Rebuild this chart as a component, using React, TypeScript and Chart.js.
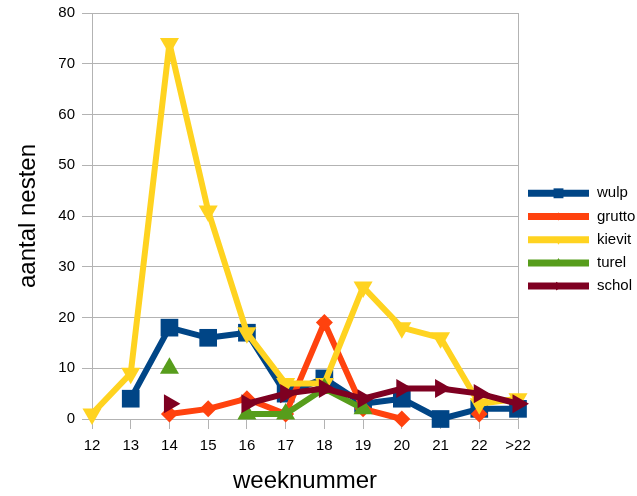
import React, { useEffect, useRef } from 'react';
import { Chart, registerables } from 'chart.js';
import { drawPoint } from 'chart.js/helpers';

Chart.register(...registerables);

// ---- data ----
const weeks = ['12', '13', '14', '15', '16', '17', '18', '19', '20', '21', '22', '>22'];
const wulp = [null, 4, 18, 16, 17, 5, 8, 3, 4, 0, 2, 2];
const grutto = [null, null, 1, 2, 4, 1, 19, 2, 0, null, 1, null];
const kievit = [1, 9, 74, 41, 17, 7, 7, 26, 18, 16, 3, 4];
const turel = [null, null, 10, null, 1, 1, 6, 2, null, null, null, null];
const schol = [null, null, 3, null, 3, 5, 6, 4, 6, 6, 5, 3];

const seriesNames = ['wulp', 'grutto', 'kievit', 'turel', 'schol'];
const seriesData = [wulp, grutto, kievit, turel, schol];
const seriesColors = ['#004586', '#ff420e', '#ffd320', '#579d1c', '#7e0021'];

const yMin = 0;
const yMax = 80;
const yStep = 10;
const xTitle = 'weeknummer';
const yTitle = 'aantal nesten';

// ---- styles ----
const FONT = '"Liberation Sans", Arial, sans-serif';
const GRID = '#b3b3b3';
const markers = [
  { pointStyle: 'rect', rotation: 0, radius: 12.5, legendRadius: 7 },
  { pointStyle: 'rectRot', rotation: 0, radius: 8.5, legendRadius: 4 },
  { pointStyle: 'triangle', rotation: 180, radius: 11, legendRadius: 5 },
  { pointStyle: 'triangle', rotation: 0, radius: 11, legendRadius: 5 },
  { pointStyle: 'triangle', rotation: 90, radius: 11, legendRadius: 5 },
];

const legendPlugin = {
  id: 'sideLegend',
  afterDraw(chart: any) {
    const ctx = chart.ctx as CanvasRenderingContext2D;
    const x0 = chart.chartArea.right + 10;
    const lineLen = 61;
    const top = 193.3;
    const step = 23.2;
    ctx.save();
    seriesNames.forEach((name, i) => {
      const y = top + i * step;
      ctx.strokeStyle = seriesColors[i];
      ctx.lineWidth = 7;
      ctx.lineCap = 'butt';
      ctx.beginPath();
      ctx.moveTo(x0, y);
      ctx.lineTo(x0 + lineLen, y);
      ctx.stroke();
      ctx.fillStyle = seriesColors[i];
      const m = markers[i];
      drawPoint(ctx, { pointStyle: m.pointStyle as any, rotation: m.rotation, radius: m.legendRadius, borderWidth: 0 }, x0 + lineLen / 2, y);
      ctx.fillStyle = '#000';
      ctx.font = `15px ${FONT}`;
      ctx.textBaseline = 'middle';
      ctx.textAlign = 'left';
      ctx.fillText(name, x0 + lineLen + 8, y);
    });
    ctx.restore();
  },
};

export default function App() {
  const ref = useRef<HTMLCanvasElement | null>(null);

  useEffect(() => {
    if (!ref.current) return;
    const n = seriesNames.length;
    const chart = new Chart(ref.current, {
      type: 'line',
      data: {
        labels: weeks,
        datasets: seriesNames.map((name, i) => ({
          label: name,
          data: seriesData[i],
          borderColor: seriesColors[i],
          backgroundColor: seriesColors[i],
          pointBackgroundColor: seriesColors[i],
          pointBorderColor: seriesColors[i],
          pointBorderWidth: 0,
          borderWidth: 6,
          borderJoinStyle: 'round' as any,
          borderCapStyle: 'round' as any,
          pointStyle: markers[i].pointStyle as any,
          pointRotation: markers[i].rotation,
          pointRadius: markers[i].radius,
          pointHoverRadius: markers[i].radius,
          spanGaps: false,
          tension: 0,
          fill: false,
          clip: false as any,
          order: n - i,
        })),
      },
      options: {
        responsive: false,
        animation: false,
        devicePixelRatio: 1,
        events: [],
        layout: { autoPadding: false, padding: { top: 13, right: 119, left: 0, bottom: 0 } },
        plugins: {
          legend: { display: false },
          tooltip: { enabled: false },
        },
        scales: {
          x: {
            type: 'category',
            offset: false,
            grid: {
              display: true,
              drawOnChartArea: true,
              color: (c: any) => (c.index === weeks.length - 1 ? GRID : 'rgba(0,0,0,0)'),
              tickColor: GRID,
              tickLength: 10,
            },
            border: { display: true, color: GRID },
            ticks: {
              color: '#000',
              font: { size: 15, family: FONT },
              padding: 8,
              maxRotation: 0,
              autoSkip: false,
            },
            title: {
              display: true,
              text: xTitle,
              color: '#000',
              font: { size: 24, family: FONT },
              padding: { top: 0, bottom: 0 },
            },
            afterFit: (s: any) => {
              s.height = 77;
              s.paddingLeft = 0;
              s.paddingRight = 0;
            },
          },
          y: {
            min: yMin,
            max: yMax,
            grid: { color: GRID, tickColor: GRID, tickLength: 10 },
            border: { display: true, color: GRID },
            ticks: {
              stepSize: yStep,
              color: '#000',
              font: { size: 15, family: FONT },
              padding: 7,
            },
            title: {
              display: true,
              text: yTitle,
              color: '#000',
              font: { size: 24, family: FONT },
              padding: { top: 14, bottom: 0 },
            },
            afterFit: (s: any) => {
              s.width = 92;
              s.paddingTop = 0;
              s.paddingBottom = 0;
            },
          },
        },
      },
      plugins: [legendPlugin],
    });
    return () => chart.destroy();
  }, []);

  return (
    <div style={{ position: 'absolute', left: 0, top: 0, width: 637, height: 496, background: '#fff' }}>
      <canvas ref={ref} width={637} height={496} style={{ display: 'block', width: 637, height: 496 }} />
    </div>
  );
}
